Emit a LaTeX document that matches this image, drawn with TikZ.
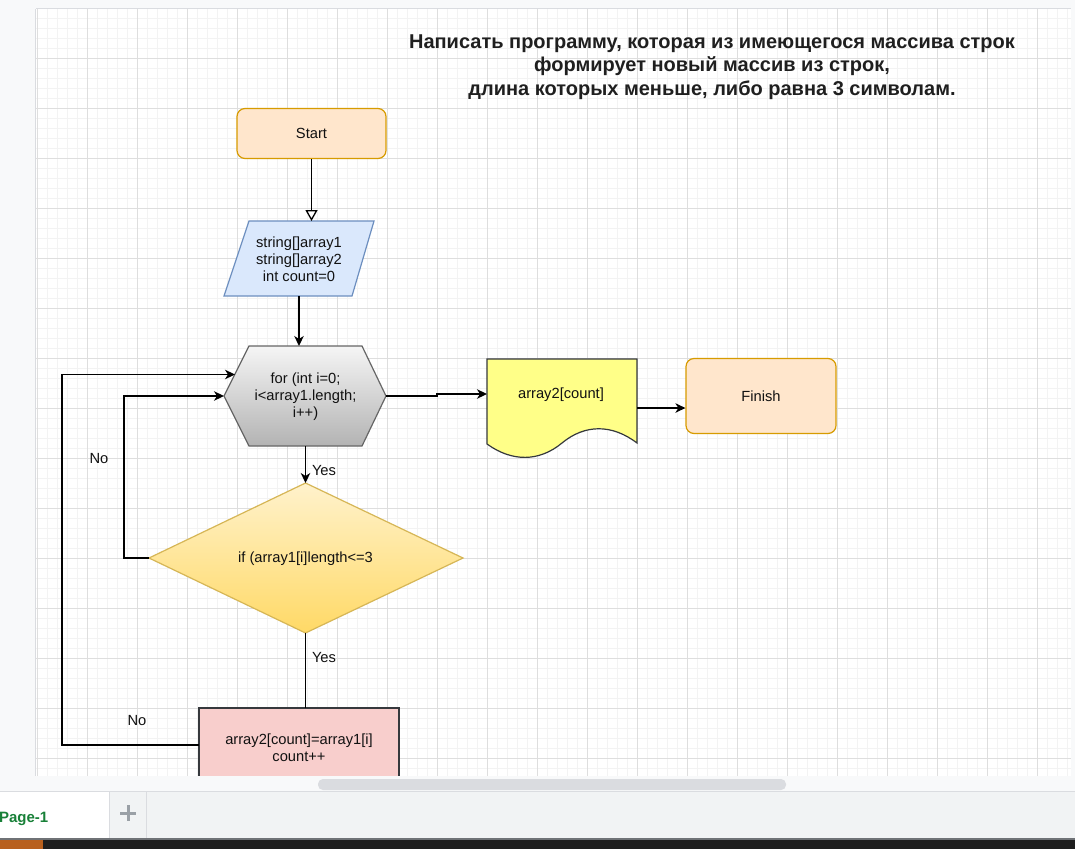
\documentclass[tikz,border=0pt]{standalone}
\usepackage{fontspec}
\setmainfont{Liberation Sans}
\usetikzlibrary{arrows.meta}
\definecolor{uibg}{HTML}{F8F9FA}
\definecolor{uiline}{HTML}{DADCE0}
\definecolor{minorgrid}{HTML}{F3F3F3}
\definecolor{majorgrid}{HTML}{DEDEDE}
\definecolor{termfill}{HTML}{FFE6CC}
\definecolor{termline}{HTML}{D79B00}
\definecolor{inpfill}{HTML}{DAE8FC}
\definecolor{inpline}{HTML}{6C8EBF}
\definecolor{hextop}{HTML}{F5F5F5}
\definecolor{hexbot}{HTML}{B3B3B3}
\definecolor{hexline}{HTML}{666666}
\definecolor{docfill}{HTML}{FFFF88}
\definecolor{darkline}{HTML}{36393D}
\definecolor{diatop}{HTML}{FFF2CC}
\definecolor{diabot}{HTML}{FFD966}
\definecolor{dialine}{HTML}{D6B656}
\definecolor{procfill}{HTML}{F8CECC}
\definecolor{tabbar}{HTML}{F1F3F4}
\definecolor{tabgreen}{HTML}{188038}
\definecolor{plusgray}{HTML}{9AA0A6}
\definecolor{bottomline}{HTML}{6F7276}
\definecolor{taskbar}{HTML}{1E1E1E}
\definecolor{taskorange}{HTML}{B8601E}
\definecolor{textcol}{HTML}{111111}
\begin{document}
\begin{tikzpicture}[x=1pt,y=-1pt,
  bodyfont/.style={font=\fontsize{14.7pt}{17pt}\selectfont, text=textcol},
  txt/.style={bodyfont, align=center, inner sep=0pt},
  term/.style={rectangle, rounded corners=8pt, draw=termline, fill=termfill, line width=1.2pt,
     minimum width=149pt, minimum height=50pt, bodyfont},
  inpshape/.style={draw=inpline, fill=inpfill, line width=1.2pt},
  hexshape/.style={draw=hexline, top color=hextop, bottom color=hexbot, line width=1.2pt},
  docshape/.style={draw=darkline, fill=docfill, line width=1.2pt},
  diashape/.style={draw=dialine, top color=diatop, bottom color=diabot, line width=1.2pt},
  procshape/.style={draw=darkline, fill=procfill, line width=1.2pt},
  conn/.style={draw=black, line width=1.3pt},
  arr/.style={-{Stealth[length=10pt,width=9.5pt,inset=3pt]}},
  openarr/.style={-{Triangle[open,length=11pt,width=12pt,fill=white]}},
  lbl/.style={bodyfont, inner sep=0pt},
  titlestyle/.style={font=\bfseries\fontsize{20pt}{23.5pt}\selectfont, text=black!88, align=center, inner sep=0pt}
]
\useasboundingbox (0,0) rectangle (1075,849);
% UI background and canvas
\fill[uibg] (0,0) rectangle (1075,849);
\fill[white] (36,9) rectangle (1071,776);
\foreach \x in {37,47,...,1067} \draw[minorgrid, line width=1pt] (\x,9) -- (\x,776);
\foreach \y in {18,28,...,768} \draw[minorgrid, line width=1pt] (36,\y) -- (1071,\y);
\foreach \x in {37,87,...,1067} \draw[majorgrid, line width=1pt] (\x,9) -- (\x,776);
\foreach \y in {58,108,...,758} \draw[majorgrid, line width=1pt] (36,\y) -- (1071,\y);
\draw[uiline, line width=1pt] (35.5,9) -- (35.5,776);
\draw[uiline, line width=1pt] (36,8.5) -- (1071,8.5);
\draw[uiline, line width=1pt] (1071.5,9) -- (1071.5,776);

% Title
\node[titlestyle] (title) at (712,67) {Написать программу, которая из имеющегося массива строк\\формирует новый массив из строк,\\длина которых меньше, либо равна 3 символам.};

% Start
\node[term] (start) at (311.5,133.5) {Start};

% Input parallelogram
\path[inpshape] (249,221) -- (374,221) -- (352,296) -- (224,296) -- cycle;
\node[txt] (inp) at (299,259.5) {string[]array1\\string[]array2\\int count=0};
\coordinate (inpTop) at (311.5,221);
\coordinate (inpBot) at (299,296);

% Hexagon
\path[hexshape] (249,346) -- (362,346) -- (386,396) -- (362,446) -- (249,446) -- (224,396) -- cycle;
\node[txt] (hex) at (305.5,396.5) {for (int i=0;\\i<array1.length;\\i++)};
\coordinate (hexTop) at (299,346);
\coordinate (hexE) at (386,396);
\coordinate (hexS) at (305.5,446);
\coordinate (hexW) at (224,396);
\coordinate (hexWU) at (235,374.5);

% Document
\path[docshape] (487,359) -- (637,359) -- (637,443)
   .. controls (612,424) and (585,424) .. (562,443)
   .. controls (539,462) and (512,462) .. (487,444) -- cycle;
\node[txt] (doc) at (561,394.5) {array2[count]};
\coordinate (docW) at (487,394);
\coordinate (docE) at (637,408);

% Finish
\node[term, minimum width=150pt, minimum height=75pt] (finish) at (761,396) {Finish};

% Diamond
\path[diashape] (305.5,483) -- (463,558) -- (305.5,633) -- (149,558) -- cycle;
\node[txt] (dia) at (305.5,558.5) {if (array1[i]length<=3};
\coordinate (diaN) at (305.5,483);
\coordinate (diaW) at (149,558);
\coordinate (diaS) at (305.5,633);

% Process box (cut by the window edge)
\path[procshape] (199,708) rectangle (399,800);
\node[txt] (proc) at (299,747.5) {array2[count]=array1[i]\\count++};
\coordinate (procN) at (305.5,708);
\coordinate (procW) at (199,745);

% Connectors
\draw[conn, openarr] (start.south) -- (inpTop);
\draw[conn, arr] (inpBot) -- (hexTop);
\draw[conn, arr] (hexE) -- ++(51,0) |- (docW);
\draw[conn, arr] (docE) -- (docE -| finish.west);
\draw[conn, arr] (hexS) -- (diaN);
\draw[conn, arr] (diaW) -- ++(-25,0) |- (hexW);
\draw[conn] (diaS) -- (procN);
\draw[conn, arr] (procW) -- ++(-137,0) |- (hexWU);

% Labels
\node[lbl] (yes1) at (324,471) {Yes};
\node[lbl] (no1) at (99,459) {No};
\node[lbl] (yes2) at (324,658) {Yes};
\node[lbl] (no2) at (137,721) {No};

% Bottom UI
\fill[uibg] (0,776) rectangle (1075,791);
\fill[uiline, rounded corners=5pt] (318,779) rectangle (786,790);
\fill[uibg] (1071,9) rectangle (1075,776);
\draw[uiline, line width=1pt] (0,791.5) -- (1075,791.5);
\fill[tabbar] (0,792) rectangle (1075,838);
\fill[white] (0,792) rectangle (109,838);
\draw[uiline, line width=1pt] (109.5,792) -- (109.5,838);
\draw[uiline, line width=1pt] (146.5,792) -- (146.5,838);
\node[font=\bfseries\fontsize{15pt}{18pt}\selectfont, text=tabgreen, anchor=base east, inner sep=0pt] (page) at (48.5,822) {Page-1};
\draw[plusgray, line width=3pt] (120,813) -- (136,813);
\draw[plusgray, line width=3pt] (128,805) -- (128,821);
\fill[bottomline] (0,838) rectangle (1075,840);
\fill[taskbar] (0,840) rectangle (1075,849);
\fill[taskorange] (0,840) rectangle (43,849);
\end{tikzpicture}
\end{document}
